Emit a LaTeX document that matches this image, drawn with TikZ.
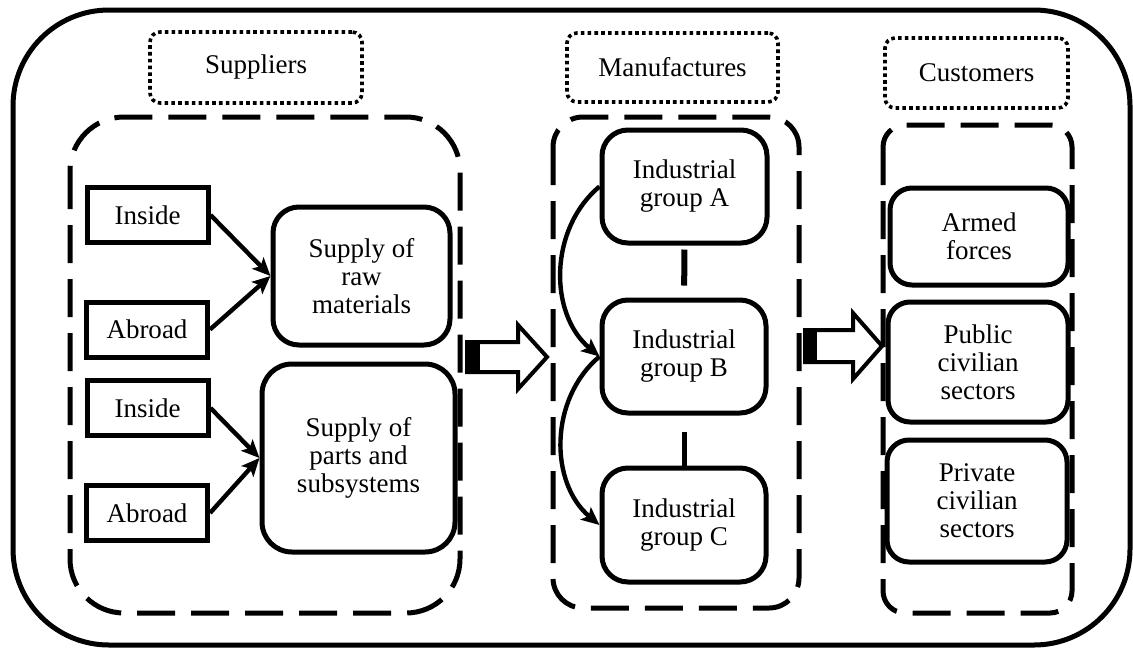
\documentclass[tikz,border=0pt]{standalone}
\usepackage{fontspec}
\setmainfont{Liberation Serif}
\usetikzlibrary{arrows.meta}

\begin{document}
\begin{tikzpicture}[x=0.5pt, y=-0.5pt,
  every node/.style={font=\fontsize{13.5}{14}\selectfont, align=center, inner sep=0pt},
  titlebox/.style={draw, line width=1.8pt, dash pattern=on 1.8pt off 1.6pt, rounded corners=5pt},
  groupline/.style={line width=2.5pt, dash pattern=on 19pt off 8pt},
  srcbox/.style={draw, line width=2.5pt, minimum width=60.5pt, minimum height=27.5pt},
  roundbox/.style={draw, line width=2.5pt, rounded corners=13pt},
  flowarrow/.style={line width=2.2pt, -{Stealth[length=9pt, width=8pt, inset=2pt]}},
  blockarrow/.style={line width=2pt, fill=white}
]
  \useasboundingbox (0,0) rectangle (1133,648);

  % Outer frame
  \draw[line width=2.5pt, rounded corners=48pt] (13,10) rectangle (1130,645);

  % Titles
  \node[titlebox, minimum width=106pt, minimum height=35.5pt] (suptitle) at (256,67.5) {Suppliers};
  \node[titlebox, minimum width=105.5pt, minimum height=34.5pt] (mantitle) at (672.5,67.5) {Manufactures};
  \node[titlebox, minimum width=91.5pt, minimum height=35pt] (custitle) at (976.5,73) {Customers};

  % Group frames
  \draw[groupline, rounded corners=27pt] (70,117) rectangle (460,613);
  \draw[groupline, rounded corners=15pt] (553,117) rectangle (799,608);
  \draw[groupline, rounded corners=11pt] (883,125) rectangle (1072,613);

  % Suppliers
  \node[srcbox] (inside1) at (147.5,215) {Inside};
  \node[srcbox] (abroad1) at (147,329.5) {Abroad};
  \node[srcbox] (inside2) at (147.5,408) {Inside};
  \node[srcbox] (abroad2) at (147,513) {Abroad};
  \node[roundbox, minimum width=88.5pt, minimum height=69pt] (raw) at (361.5,276) {Supply of\\raw\\materials};
  \node[roundbox, minimum width=96.5pt, minimum height=94pt, rounded corners=15pt] (parts) at (358.5,458) {Supply of\\parts and\\subsystems};

  \draw[flowarrow] (inside1.east) -- (raw.west);
  \draw[flowarrow] (abroad1.east) -- (raw.west);
  \draw[flowarrow] (inside2.east) -- (parts.west);
  \draw[flowarrow] (abroad2.east) -- (parts.west);

  % Manufactures
  \node[roundbox, minimum width=82.5pt, minimum height=56.5pt] (grpA) at (684.5,186.5) {Industrial\\group A};
  \node[roundbox, minimum width=82pt, minimum height=56.5pt] (grpB) at (684,356.5) {Industrial\\group B};
  \node[roundbox, minimum width=82pt, minimum height=57pt] (grpC) at (684,525) {Industrial\\group C};

  \draw[line width=3pt, shorten <=2pt, shorten >=6pt] (grpA) -- (grpB);
  \draw[line width=2.5pt, shorten <=8pt] (grpB) -- (grpC);
  \draw[flowarrow] (grpA.west) to[bend right=50] (grpB.west);
  \draw[flowarrow] (grpB.west) to[bend right=50] (grpC.west);

  % Customers
  \node[roundbox, minimum width=89pt, minimum height=48.5pt, rounded corners=11pt] (armed) at (979,236.5) {Armed\\forces};
  \node[roundbox, minimum width=90pt, minimum height=60pt, rounded corners=11pt] (public) at (978,362) {Public\\civilian\\sectors};
  \node[roundbox, minimum width=90pt, minimum height=61pt, rounded corners=11pt] (private) at (977,501) {Private\\civilian\\sectors};

  % Block arrows
  \coordinate (flow1) at (467,357);
  \draw[blockarrow] (flow1) ++(0,-15) -- ++(51,0) -- ++(0,-17) -- ++(29,32) -- ++(-29,32) -- ++(0,-17) -- ++(-51,0) -- cycle;
  \fill (flow1) ++(0,-15) rectangle ++(13,30);

  \coordinate (flow2) at (805,346);
  \draw[blockarrow] (flow2) ++(0,-16) -- ++(48,0) -- ++(0,-17) -- ++(29,33) -- ++(-29,33) -- ++(0,-17) -- ++(-48,0) -- cycle;
  \fill (flow2) ++(0,-16) rectangle ++(12,32);
\end{tikzpicture}
\end{document}
